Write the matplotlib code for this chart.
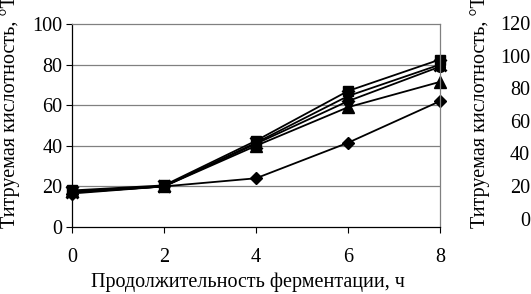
import matplotlib
matplotlib.use("Agg")
import matplotlib.pyplot as plt

hours = [0, 2, 4, 6, 8]
s_diamond = [16.5, 20, 24, 41.5, 62]
s_square = [18, 20.5, 42.5, 67, 82.5]
s_triangle = [17.5, 20, 40, 59, 71.5]
s_cross = [17, 20, 41.5, 64.5, 80]
s_circle = [17, 20, 41, 62, 79]
left_ticks = [0, 20, 40, 60, 80, 100]
right_ticks = [0, 20, 40, 60, 80, 100, 120]
x_ticks = [0, 2, 4, 6, 8]

plt.rcParams['font.family'] = ['Liberation Serif', 'DejaVu Serif']
W, H = 531, 294
fig = plt.figure(figsize=(W / 100, H / 100), dpi=100)
FS = 14.5

L, R, T, B = 72, 440, 24, 227
ax = fig.add_axes([L / W, 1 - B / H, (R - L) / W, (B - T) / H])
ax.set_xlim(0, 8)
ax.set_ylim(0, 100)
ax.set_xticks(x_ticks)
ax.set_yticks(left_ticks)
ax.tick_params(axis='both', labelsize=FS, direction='out', length=4, width=0.8, color='black')
ax.tick_params(axis='x', pad=11)
ax.tick_params(axis='y', pad=3)
for y in left_ticks[1:-1]:
    ax.axhline(y, color='#808080', lw=0.9, zorder=0)
ax.spines['top'].set_color('#808080')
ax.spines['right'].set_color('#808080')
ax.spines['left'].set_color('black')
ax.spines['bottom'].set_color('black')
for s in ax.spines.values():
    s.set_linewidth(0.9)

kw = dict(color='black', lw=1.3, clip_on=False)
ax.plot(hours, s_diamond, marker='D', ms=6.5, **kw)
ax.plot(hours, s_triangle, marker='^', ms=8, **kw)
ax.plot(hours, s_circle, marker='o', ms=7, **kw)
ax.plot(hours, s_cross, marker='x', ms=8, mew=2, **kw)
ax.plot(hours, s_square, marker='s', ms=7.5, **kw)

# right axis (labels only)
rt, rb = 23, 218.5
ax2 = fig.add_axes([530 / W, 1 - rb / H, 0.001, (rb - rt) / H])
ax2.set_ylim(0, 120)
ax2.set_yticks(right_ticks)
ax2.set_xticks([])
ax2.tick_params(axis='y', labelsize=FS, length=0, pad=0)
for s in ax2.spines.values():
    s.set_visible(False)
ax2.patch.set_visible(False)

ylab = 'Титруемая кислотность, °Т'
fig.text(10 / W, 1 - 112 / H, ylab, rotation=90, ha='center', va='center', fontsize=FS)
fig.text(480 / W, 1 - 112 / H, ylab, rotation=90, ha='center', va='center', fontsize=FS)
fig.text(248 / W, 1 - 282 / H, 'Продолжительность ферментации, ч', ha='center', va='center', fontsize=FS)

fig.savefig('out.png', dpi=100)
